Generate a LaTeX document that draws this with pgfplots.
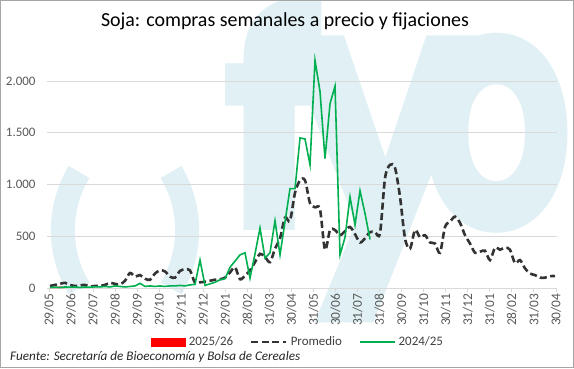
\documentclass[border=0pt]{standalone}
\usepackage{fontspec}
\setmainfont{Carlito}
\newfontfamily\logofont{Poppins}
\usepackage{pgfplots}
\pgfplotsset{compat=1.18}
\definecolor{wm}{RGB}{224,240,245}
\definecolor{gridc}{RGB}{217,217,217}
\definecolor{txt}{RGB}{89,89,89}
\definecolor{lgtxt}{RGB}{64,64,64}
\definecolor{grn}{RGB}{0,176,80}
\definecolor{avg}{RGB}{51,51,51}
\definecolor{frame}{RGB}{166,166,166}

\pgfplotstableread{
k v
0 20
1 30
2 40
3 50
4 30
5 20
6 25
7 30
8 15
9 20
10 20
11 30
12 50
13 40
14 35
15 70
16 145
17 110
18 125
19 90
20 80
21 140
22 170
23 160
24 110
25 100
26 165
27 180
28 170
29 50
30 55
31 60
32 70
33 80
34 85
35 100
36 150
37 200
38 85
39 120
40 170
41 250
42 330
43 300
44 250
45 380
46 480
47 680
48 650
49 920
50 1040
51 1040
52 820
53 780
54 760
55 370
56 560
57 560
58 510
59 550
60 590
61 520
62 440
63 480
64 540
65 540
66 530
67 1060
68 1190
69 1160
70 880
71 480
72 380
73 560
74 490
75 510
76 440
77 430
78 340
79 590
80 640
81 690
82 630
83 510
84 430
85 340
86 350
87 360
88 270
89 390
90 370
91 390
92 370
93 240
94 270
95 190
96 140
97 125
98 100
99 100
100 115
101 115
}\avgdata

\pgfplotstableread{
k v
0 5
1 8
2 5
3 10
4 8
5 10
6 5
7 10
8 8
9 12
10 10
11 15
12 10
13 20
14 15
15 10
16 15
17 20
18 45
19 15
20 20
21 15
22 20
23 15
24 20
25 20
26 25
27 20
28 30
29 35
30 270
31 25
32 40
33 55
34 80
35 90
36 200
37 260
38 320
39 340
40 95
41 330
42 580
43 290
44 340
45 650
46 320
47 640
48 960
49 960
50 1450
51 1440
52 1190
53 2200
54 1900
55 1250
56 1780
57 1950
58 320
59 490
60 880
61 610
62 940
63 720
64 470
}\greendata

\begin{document}
\begin{tikzpicture}[x=1bp,y=1bp]
\useasboundingbox (0,0) rectangle (574,368);
% watermark
\draw[wm, line width=24bp] (79,196) arc[start angle=149, end angle=211, radius=113];
\draw[wm, line width=24bp] (171,196) arc[start angle=31, end angle=-31, radius=113];
\node[wm, anchor=base west, inner sep=0, xscale=1.0, font=\logofont\bfseries\fontsize{300}{300}\selectfont] at (220,138) {f};
\node[wm, anchor=base, inner sep=0, xscale=0.92, font=\logofont\bfseries\fontsize{350}{350}\selectfont] at (385,138) {y};
\node[wm, anchor=base, inner sep=0, xscale=0.7, font=\logofont\bfseries\fontsize{350}{350}\selectfont] at (497,138) {o};
\draw[frame, line width=1.2bp] (0.6,0.6) rectangle (573.4,367.4);
\node[font=\fontsize{20}{24}\selectfont, text=black] at (285,347) {Soja: compras semanales a precio y fijaciones};
\node[anchor=west, font=\itshape\fontsize{13.2}{15}\selectfont, text=black!85, inner sep=0] at (10,11) {Fuente: Secretaría de Bioeconomía y Bolsa de Cereales};
\begin{axis}[
  at={(47bp,80bp)}, anchor=south west,
  scale only axis, width=510bp, height=238.05bp,
  xmin=-0.6, xmax=101.4, ymin=0, ymax=2300,
  axis x line*=bottom, axis y line*=left,
  y axis line style={draw=none},
  x axis line style={draw=gridc, line width=0.8bp},
  ytick={0,500,1000,1500,2000},
  ytick style={draw=none},
  ymajorgrids, grid style={draw=gridc, line width=0.8bp},
  xtick={-0.2,4.208,8.616,13.024,17.432,21.84,26.248,30.656,35.064,39.472,43.88,48.288,52.696,57.104,61.512,65.92,70.328,74.736,79.144,83.552,87.96,92.368,96.776,101.184},
  xticklabels={29/05,29/06,29/07,29/08,29/09,29/10,29/11,29/12,29/01,28/02,31/03,30/04,31/05,30/06,31/07,31/08,30/09,31/10,30/11,31/12,31/01,28/02,31/03,30/04},
  x tick style={draw=gridc, line width=0.8bp},
  tick align=outside, major tick length=4bp,
  xticklabel style={rotate=90, anchor=east, font=\fontsize{13.5}{15}\selectfont, text=txt, inner sep=1.2bp},
  yticklabel style={font=\fontsize{13}{15}\selectfont, text=txt, xshift=-4bp},
  /pgf/number format/.cd, 1000 sep={.}, assume math mode=true, /pgfplots/.cd,
  legend columns=-1,
  legend style={at={(0.49,-0.227)}, anchor=center, draw=none, fill=none,
    font=\fontsize{13}{15}\selectfont, text=lgtxt,
    nodes={inner sep=0pt},
    /tikz/every odd column/.append style={column sep=3bp},
    /tikz/every even column/.append style={column sep=17bp}},
  legend image code/.code={\draw[#1] (0bp,0bp) -- (35bp,0bp);},
]
\addplot[draw=none, fill=red, legend image code/.code={\fill[red] (0bp,-4.5bp) rectangle (35bp,4.5bp);}] coordinates {(0,0) (0,5) (1,10) (2,15) (3,10) (3,0)} \closedcycle;
\addlegendentry{2025/26}
\addplot[avg, line width=2.6bp, dash pattern=on 7bp off 3.5bp, smooth, tension=0.5] table[x=k, y=v] {\avgdata};
\addlegendentry{Promedio}
\addplot[grn, line width=1.6bp] table[x=k, y=v] {\greendata};
\addlegendentry{2024/25}
\end{axis}
\end{tikzpicture}
\end{document}
